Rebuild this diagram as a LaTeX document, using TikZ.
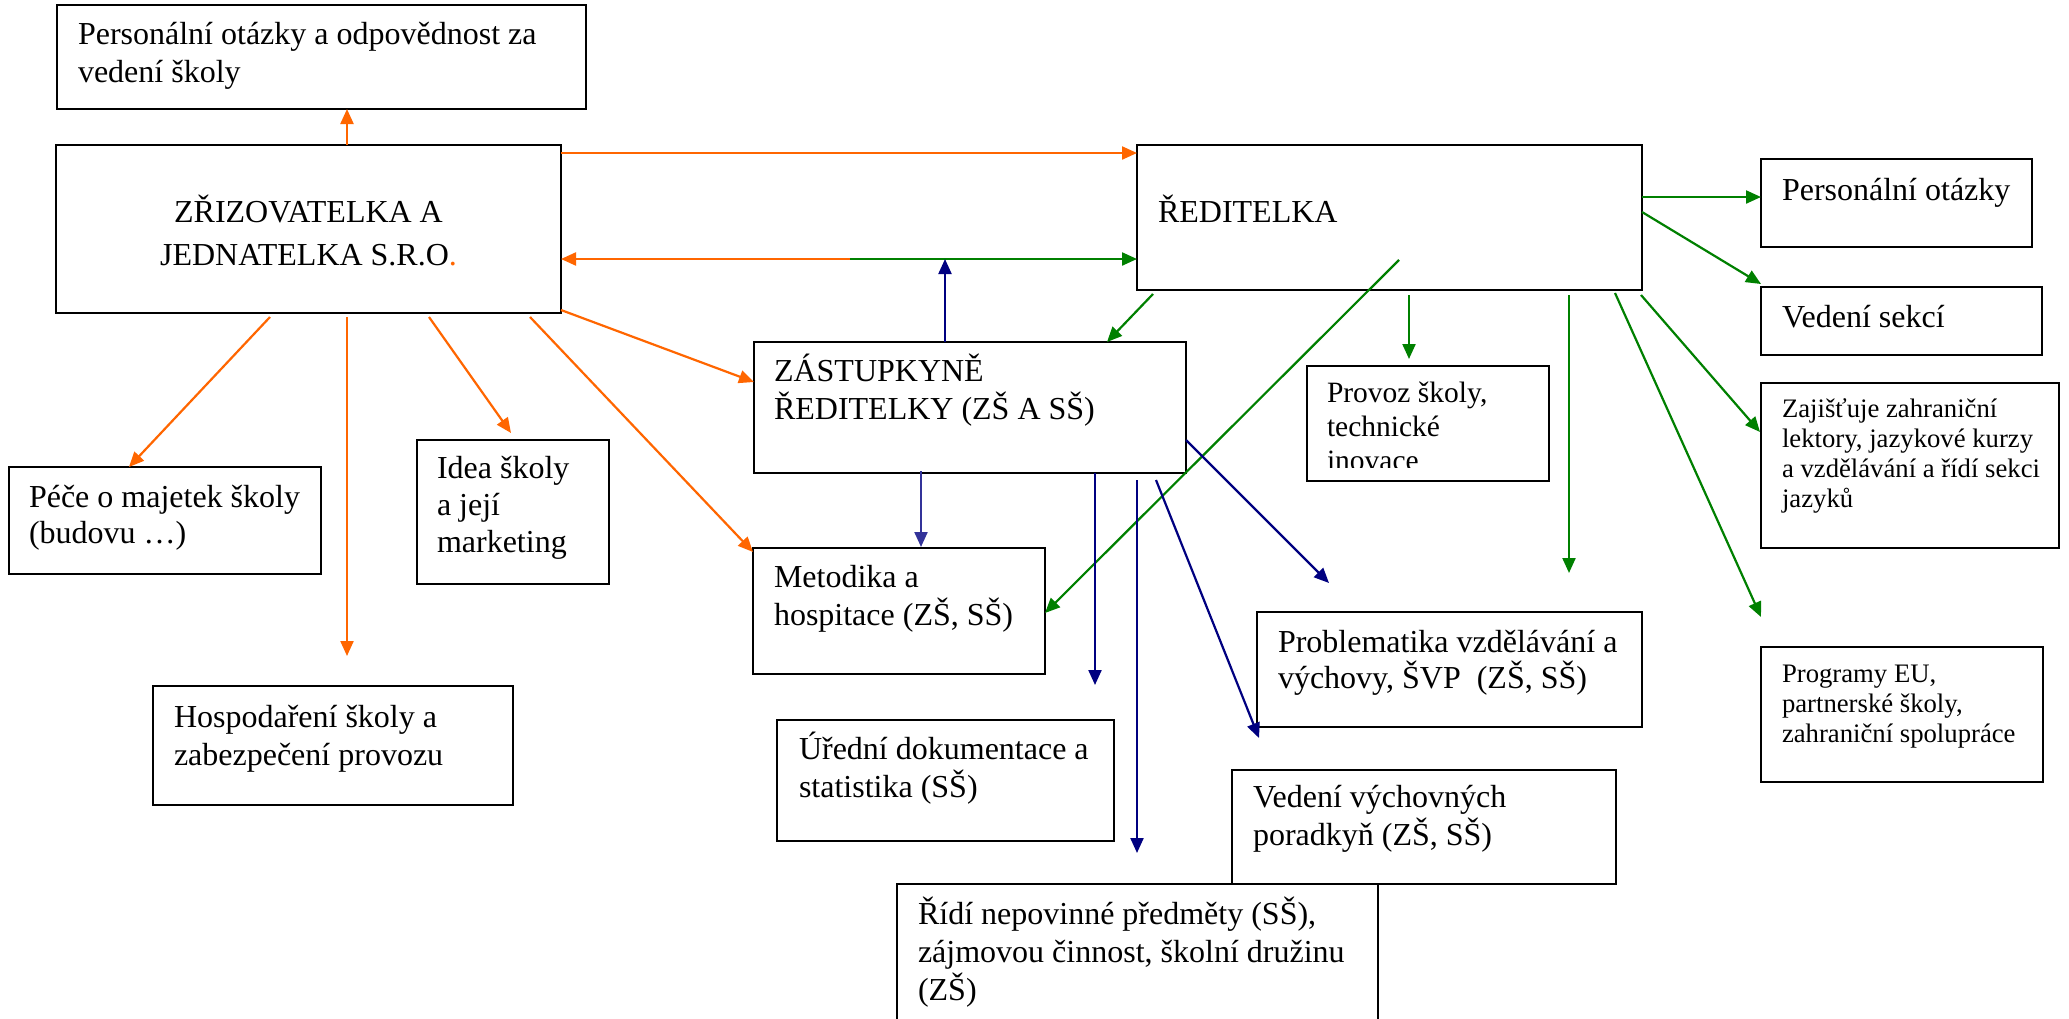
\documentclass[tikz,border=0pt]{standalone}
\usepackage{fontspec}
\setmainfont{Liberation Serif}
\usetikzlibrary{arrows.meta,calc}
\definecolor{orgC}{HTML}{FF6600}
\definecolor{grnC}{HTML}{008000}
\definecolor{bluC}{HTML}{000080}
\definecolor{bluL}{HTML}{333399}
\tikzset{
  box/.style={draw=black, line width=2.5pt, inner sep=0pt, outer sep=0pt, anchor=north west},
  txt/.style={inner sep=0pt, outer sep=0pt, anchor=base west, align=left, font=\fontsize{32}{38}\selectfont},
  smalltxt/.style={txt, font=\fontsize{26.7}{30}\selectfont},
  conn/.style={line width=2.2pt, -{Triangle[length=15pt,width=13pt]}},
  oar/.style={conn, draw=orgC, fill=orgC},
  gar/.style={conn, draw=grnC, fill=grnC},
  bar/.style={conn, draw=bluC, fill=bluC},
  barl/.style={conn, draw=bluL, fill=bluL},
}
\begin{document}
\begin{tikzpicture}[x=1pt,y=-1pt]
\useasboundingbox (0,0) rectangle (2069,1018);
\fill[white] (0,0) rectangle (2069,1018);
\clip (0,0) rectangle (2069,1018);

% boxes
\node[box, minimum width=529pt, minimum height=104pt] (top) at (57,5) {};
\node[box, minimum width=505pt, minimum height=168pt] (zriz) at (56,145) {};
\node[box, minimum width=505pt, minimum height=145pt] (red) at (1137,145) {};
\node[box, minimum width=271pt, minimum height=88pt] (pers) at (1761,159) {};
\node[box, minimum width=281pt, minimum height=68pt] (veds) at (1761,287) {};
\node[box, minimum width=298pt, minimum height=165pt] (zaj) at (1761,383) {};
\node[box, minimum width=282pt, minimum height=135pt] (prog) at (1761,647) {};
\node[box, minimum width=432pt, minimum height=131pt] (zast) at (754,342) {};
\node[box, minimum width=242pt, minimum height=115pt] (prov) at (1307,366) {};
\node[box, minimum width=312pt, minimum height=107pt] (pece) at (9,467) {};
\node[box, minimum width=192pt, minimum height=144pt] (idea) at (417,440) {};
\node[box, minimum width=292pt, minimum height=126pt] (met) at (753,548) {};
\node[box, minimum width=360pt, minimum height=119pt] (hosp) at (153,686) {};
\node[box, minimum width=385pt, minimum height=115pt] (prob) at (1257,612) {};
\node[box, minimum width=337pt, minimum height=121pt] (ured) at (777,720) {};
\node[box, minimum width=384pt, minimum height=114pt] (vvp) at (1232,770) {};
\node[box, minimum width=481pt, minimum height=160pt] (ridi) at (897,884) {};

% texts (anchor = baseline of the last line)
\node[txt] (ttop) at (78,82) {Personální otázky a odpovědnost za\\vedení školy};
\node[txt, anchor=base, align=center, font=\fontsize{32}{43}\selectfont] (tzriz) at (308.5,265) {ZŘIZOVATELKA A\\JEDNATELKA S.R.O\textcolor{orgC}{.}};
\node[txt] (tred) at (1158,222) {ŘEDITELKA};
\node[txt] (tpers) at (1782,200) {Personální otázky};
\node[txt] (tveds) at (1782,327) {Vedení sekcí};
\node[smalltxt] (tzaj) at (1782,507) {Zajišťuje zahraniční\\lektory, jazykové kurzy\\a vzdělávání a řídí sekci\\jazyků};
\node[smalltxt] (tprog) at (1782,742) {Programy EU,\\partnerské školy,\\zahraniční spolupráce};
\node[txt] (tzast) at (774,419) {ZÁSTUPKYNĚ\\ŘEDITELKY (ZŠ A SŠ)};
\begin{scope}
\clip (1307,366) rectangle (1549,467);
\node[txt, font=\fontsize{29.5}{34}\selectfont] (tprov) at (1327,470) {Provoz školy,\\technické\\inovace};
\end{scope}
\node[txt, font=\fontsize{32}{36}\selectfont] (tpece) at (29,543) {Péče o majetek školy\\(budovu …)};
\node[txt, font=\fontsize{32}{37}\selectfont] (tidea) at (437,552) {Idea školy\\a její\\marketing};
\node[txt] (tmet) at (774,625) {Metodika a\\hospitace (ZŠ, SŠ)};
\node[txt] (thosp) at (174,765) {Hospodaření školy a\\zabezpečení provozu};
\node[txt, font=\fontsize{32}{36}\selectfont] (tprob) at (1278,688) {Problematika vzdělávání a\\výchovy, ŠVP\ \ (ZŠ, SŠ)};
\node[txt] (tured) at (799,797) {Úřední dokumentace a\\statistika (SŠ)};
\node[txt] (tvvp) at (1253,845) {Vedení výchovných\\poradkyň (ZŠ, SŠ)};
\node[txt] (tridi) at (918,1000) {Řídí nepovinné předměty (SŠ),\\zájmovou činnost, školní družinu\\(ZŠ)};

% junction points on the ZŘIZ--ŘED line
\coordinate (jn) at (850,259);
\coordinate (jb) at (945,259);

% orange connectors
\draw[oar] ($(zriz.north west)+(291,0)$) -- ($(top.south west)+(290,0)$);
\draw[oar] ($(zriz.north east)+(0,8)$) -- ($(red.north west)+(0,8)$);
\draw[oar] (jn) -- ($(zriz.north east)+(0,114)$);
\draw[oar] ($(zriz.south west)+(214,4)$) -- ($(pece.north west)+(120,0)$);
\draw[oar] ($(zriz.south west)+(291,4)$) -- ($(hosp.north west)+(194,-30)$);
\draw[oar] ($(zriz.south west)+(373,4)$) -- ($(idea.north west)+(94,-7)$);
\draw[oar] ($(zriz.south west)+(474,4)$) -- ($(met.north west)+(0,4)$);
\draw[oar] ($(zriz.south east)+(0,-3)$) -- ($(zast.north west)+(0,40)$);

% green connectors
\draw[gar] (jn) -- ($(red.north west)+(0,114)$);
\draw[gar] ($(red.south west)+(16,4)$) -- ($(zast.north west)+(353,0)$);
\draw[gar] ($(red.north west)+(262,115)$) -- ($(met.north east)+(0,65)$);
\draw[gar] ($(red.north east)+(0,52)$) -- ($(pers.north west)+(0,38)$);
\draw[gar] ($(red.north east)+(0,67)$) -- ($(veds.north west)+(0,-3)$);
\draw[gar] ($(red.south west)+(272,5)$) -- ($(prov.north west)+(102,-7)$);
\draw[gar] ($(red.south west)+(432,5)$) -- ($(prob.north west)+(312,-39)$);
\draw[gar] ($(red.south west)+(478,3)$) -- ($(prog.north west)+(0,-30)$);
\draw[gar] ($(red.south east)+(-1,5)$) -- ($(zaj.north west)+(-1,49)$);

% blue connectors
\draw[bar] ($(zast.north west)+(191,0)$) -- (jb);
\draw[barl] ($(zast.south west)+(167,-2)$) -- ($(met.north west)+(168,-1)$);
\draw[bar] ($(zast.south west)+(341,0)$) -- ($(ured.north west)+(318,-35)$);
\draw[bar] ($(zast.south west)+(383,7)$) -- ($(ridi.north west)+(240,-31)$);
\draw[bar] ($(zast.south west)+(402,7)$) -- ($(vvp.north west)+(27,-32)$);
\draw[bar] ($(zast.north east)+(0,98)$) -- ($(prob.north west)+(72,-29)$);
\end{tikzpicture}
\end{document}
